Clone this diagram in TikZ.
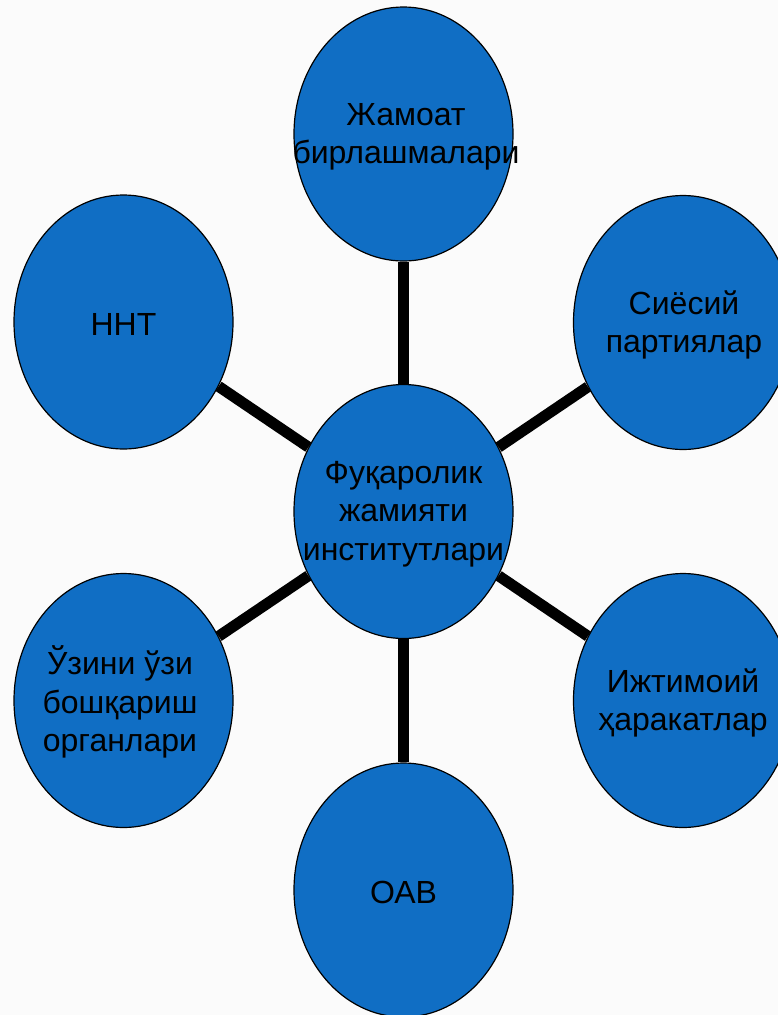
\documentclass[tikz,border=0pt]{standalone}
\usepackage{fontspec}
\setmainfont{Liberation Sans}
\usetikzlibrary{shapes.geometric}
\definecolor{blobblue}{RGB}{16,110,196}
\definecolor{bgpaper}{RGB}{251,251,251}
\begin{document}
\begin{tikzpicture}[x=1pt,y=-1pt,
  blob/.style={ellipse, draw=black, line width=1.2pt, fill=blobblue,
    minimum width=219pt, minimum height=254pt, inner sep=0pt},
  lbl/.style={align=center, font=\fontsize{32}{38.5}\selectfont, text=black, inner sep=0pt},
  spoke/.style={line width=11pt, draw=black}]
\useasboundingbox (0,0) rectangle (778,1015);
\clip (0,0) rectangle (778,1015);
\fill[bgpaper] (0,0) rectangle (778,1015);
% ellipses
\node[blob] (c)  at (403.5,511.5) {};
\node[blob] (t)  at (403.5,134) {};
\node[blob] (ru) at (683,322.5) {};
\node[blob] (lu) at (123.5,322) {};
\node[blob] (ll) at (123.5,700.5) {};
\node[blob] (rl) at (683,700.5) {};
\node[blob] (b)  at (403.5,890) {};
% spokes
\draw[spoke] (c) -- (t);
\draw[spoke] (c) -- (ru);
\draw[spoke] (c) -- (lu);
\draw[spoke] (c) -- (ll);
\draw[spoke] (c) -- (rl);
\draw[spoke] (c) -- (b);
% labels
\node[lbl] (tc)  at (406,137) {Жамоат\\бирлашмалари};
\node[lbl] (tcc) at (403.5,514) {Фуқаролик\\жамияти\\институтлари};
\node[lbl] (tru) at (684,325) {Сиёсий\\партиялар};
\node[lbl] (tlu) at (123.5,324) {ННТ};
\node[lbl] (tll) at (120,702) {Ўзини ўзи\\бошқариш\\органлари};
\node[lbl] (trl) at (683,703) {Ижтимоий\\ҳаракатлар};
\node[lbl] (tb)  at (403.5,892) {ОАВ};
\end{tikzpicture}
\end{document}
